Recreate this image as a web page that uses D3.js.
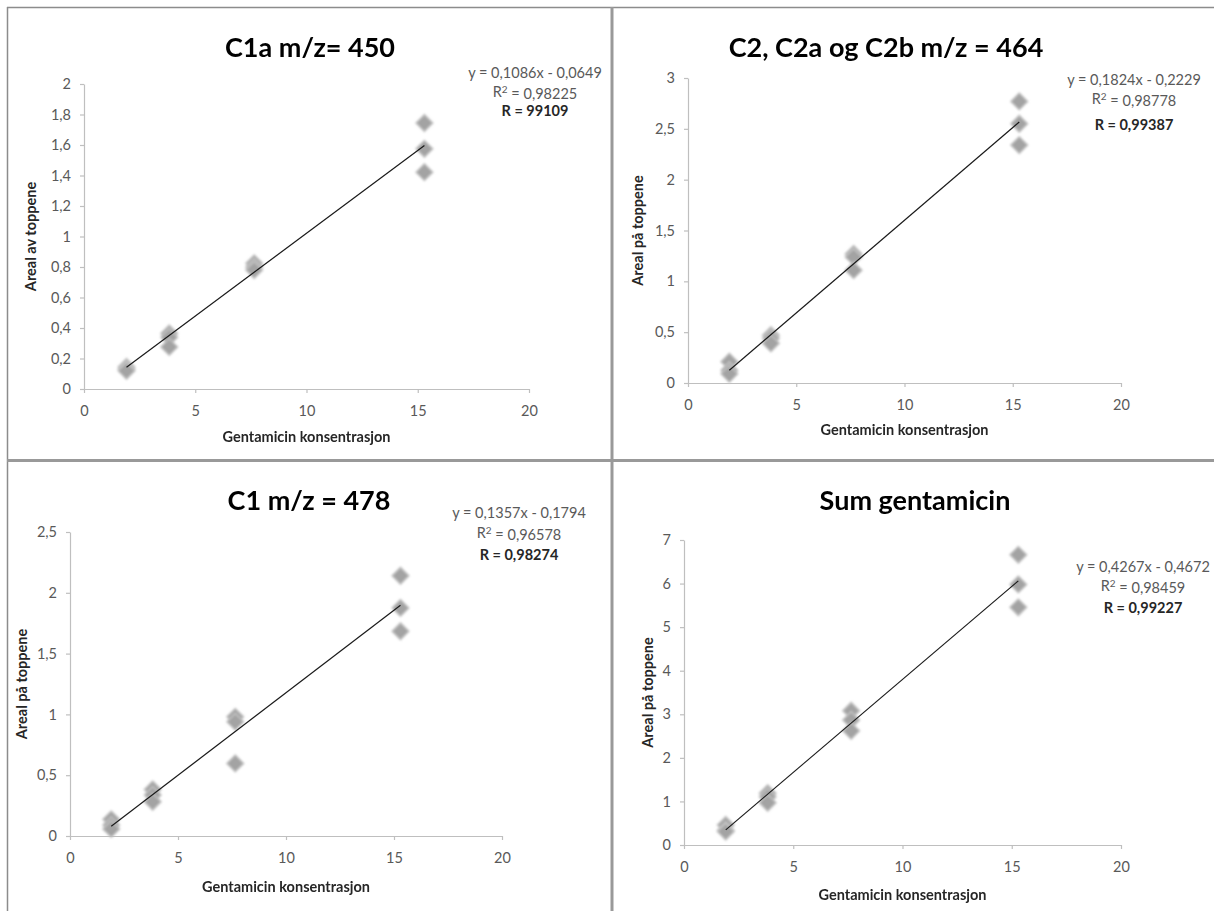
<!DOCTYPE html>
<html>
<head>
<meta charset="utf-8" />
<title>Gentamicin kalibrering</title>
<script src="https://d3js.org/d3.v7.min.js"></script>
<style>
body { margin: 0; background: #fff; }
svg { display: block; font-family: Lato, "Open Sans", sans-serif; }
.tick text { fill: #595959; font-size: 14.5px; }
.axis path, .axis line { stroke: #bfbfbf; stroke-width: 1.2px; }
.title { font-weight: bold; font-size: 27px; fill: #000; }
.axtitle { font-weight: bold; font-size: 14.5px; fill: #262626; }
.eq { font-size: 14.5px; fill: #595959; }
.eqR { font-size: 14.5px; font-weight: bold; fill: #262626; }
</style>
</head>
<body>
<div id="chart"></div>
<script>
// concentrations (3 replicates each)
var conc = [1.91, 1.91, 1.91, 3.83, 3.83, 3.83, 7.65, 7.65, 7.65, 15.3, 15.3, 15.3];

// peak areas
var c1a = [0.145, 0.13, 0.12, 0.364, 0.34, 0.276, 0.824, 0.80, 0.78, 1.744, 1.575, 1.422];
var c2 = [0.21, 0.125, 0.09, 0.47, 0.44, 0.39, 1.27, 1.24, 1.11, 2.77, 2.55, 2.34];
var c1 = [0.137, 0.09, 0.058, 0.383, 0.337, 0.282, 0.98, 0.94, 0.597, 2.14, 1.876, 1.684];
var sumG = [0.46, 0.34, 0.31, 1.19, 1.11, 0.97, 3.08, 2.87, 2.62, 6.66, 5.98, 5.455];

var titles = ["C1a m/z= 450", "C2, C2a og C2b m/z = 464", "C1 m/z = 478", "Sum gentamicin"];
var yLabels = ["Areal av toppene", "Areal på toppene", "Areal på toppene", "Areal på toppene"];
var xLabel = "Gentamicin konsentrasjon";

var slopes = [0.1086, 0.1824, 0.1357, 0.4267];
var intercepts = [-0.0649, -0.2229, -0.1794, -0.4672];
var eqTexts = ["y = 0,1086x - 0,0649", "y = 0,1824x - 0,2229", "y = 0,1357x - 0,1794", "y = 0,4267x - 0,4672"];
var r2Texts = ["0,98225", "0,98778", "0,96578", "0,98459"];
var rTexts = ["R = 99109", "R = 0,99387", "R = 0,98274", "R = 0,99227"];

var xTicks = [0, 5, 10, 15, 20];
var yTicks1 = [0, 0.2, 0.4, 0.6, 0.8, 1, 1.2, 1.4, 1.6, 1.8, 2];
var yTicks2 = [0, 0.5, 1, 1.5, 2, 2.5, 3];
var yTicks3 = [0, 0.5, 1, 1.5, 2, 2.5];
var yTicks4 = [0, 1, 2, 3, 4, 5, 6, 7];

var series = [c1a, c2, c1, sumG];
var yTickSets = [yTicks1, yTicks2, yTicks3, yTicks4];

// panel layout in page pixels
var layout = [
    {l: 84, r: 529, b: 389, t: 84, tx: 310, ty: 47, ex: 535, ey: [73, 92, 111], ylx: 31, xly: 437},
    {l: 688, r: 1121, b: 383, t: 78, tx: 886, ty: 47, ex: 1134, ey: [80, 99, 125], ylx: 638, xly: 430},
    {l: 70, r: 502, b: 836, t: 532, tx: 309, ty: 500, ex: 519, ey: [513, 533, 555], ylx: 22, xly: 887},
    {l: 684, r: 1121, b: 845, t: 540, tx: 915, ty: 500, ex: 1143, ey: [567, 586, 608], ylx: 648, xly: 895}
];

var fmt = d3.formatLocale({decimal: ",", thousands: " ", grouping: [3], currency: ["", ""]}).format(".1~f");

var W = 1214, H = 911;
var svg = d3.select("#chart").append("svg").attr("width", W).attr("height", H);

var defs = svg.append("defs");
defs.append("filter").attr("id", "soft")
    .attr("x", "-50%").attr("y", "-50%").attr("width", "200%").attr("height", "200%")
    .append("feGaussianBlur").attr("stdDeviation", 0.8);

// frame and dividers
svg.append("line").attr("x1", 7.5).attr("x2", 7.5).attr("y1", 7).attr("y2", H)
    .attr("stroke", "#8c8c8c").attr("stroke-width", 1.5);
svg.append("line").attr("x1", 7).attr("x2", W).attr("y1", 7.5).attr("y2", 7.5)
    .attr("stroke", "#8c8c8c").attr("stroke-width", 1.5);
svg.append("line").attr("x1", 612).attr("x2", 612).attr("y1", 7).attr("y2", H)
    .attr("stroke", "#999").attr("stroke-width", 3);
svg.append("line").attr("x1", 7).attr("x2", W).attr("y1", 460.5).attr("y2", 460.5)
    .attr("stroke", "#999").attr("stroke-width", 3);

var diamond = d3.symbol().type(d3.symbolSquare).size(140);

layout.forEach(function(p, i) {
    var yT = yTickSets[i];
    var x = d3.scaleLinear().domain([0, 20]).range([p.l, p.r]);
    var y = d3.scaleLinear().domain([0, yT[yT.length - 1]]).range([p.b, p.t]);
    var g = svg.append("g");

    g.append("g").attr("class", "axis")
        .attr("transform", "translate(0," + p.b + ")")
        .call(d3.axisBottom(x).tickValues(xTicks).tickFormat(fmt).tickSize(4).tickSizeOuter(0).tickPadding(13));

    g.append("g").attr("class", "axis")
        .attr("transform", "translate(" + p.l + ",0)")
        .call(d3.axisLeft(y).tickValues(yT).tickFormat(fmt).tickSize(4).tickSizeOuter(0).tickPadding(9));

    svg.selectAll(".axis").attr("font-family", null).attr("font-size", null);

    // points
    var pts = conc.map(function(c, k) { return [c, series[i][k]]; });
    g.append("g").attr("filter", "url(#soft)")
        .selectAll("path").data(pts).enter().append("path")
        .attr("d", diamond)
        .attr("transform", function(d) { return "translate(" + x(d[0]) + "," + y(d[1]) + ") rotate(45)"; })
        .attr("fill", "#a3a3a3")
        .attr("stroke", "#c2c2c2")
        .attr("stroke-width", 1.5);

    // trend line
    var xMin = d3.min(conc), xMax = d3.max(conc);
    g.append("line")
        .attr("x1", x(xMin)).attr("y1", y(slopes[i] * xMin + intercepts[i]))
        .attr("x2", x(xMax)).attr("y2", y(slopes[i] * xMax + intercepts[i]))
        .attr("stroke", "#1a1a1a").attr("stroke-width", 1.2);

    // titles
    g.append("text").attr("class", "title")
        .attr("x", p.tx).attr("y", p.ty).attr("dy", "0.36em")
        .attr("text-anchor", "middle").text(titles[i]);

    g.append("text").attr("class", "axtitle")
        .attr("x", (p.l + p.r) / 2).attr("y", p.xly).attr("dy", "0.36em")
        .attr("text-anchor", "middle").text(xLabel);

    g.append("text").attr("class", "axtitle")
        .attr("transform", "translate(" + p.ylx + "," + ((p.t + p.b) / 2) + ") rotate(-90)")
        .attr("dy", "0.36em")
        .attr("text-anchor", "middle").text(yLabels[i]);

    // regression text
    g.append("text").attr("class", "eq")
        .attr("x", p.ex).attr("y", p.ey[0]).attr("dy", "0.36em")
        .attr("text-anchor", "middle").text(eqTexts[i]);
    var r2 = g.append("text").attr("class", "eq")
        .attr("x", p.ex).attr("y", p.ey[1]).attr("dy", "0.36em")
        .attr("text-anchor", "middle");
    r2.append("tspan").text("R");
    r2.append("tspan").attr("dy", "-0.45em").attr("font-size", "10px").text("2");
    r2.append("tspan").attr("dy", "0.45em").text(" = " + r2Texts[i]);
    g.append("text").attr("class", "eqR")
        .attr("x", p.ex).attr("y", p.ey[2]).attr("dy", "0.36em")
        .attr("text-anchor", "middle").text(rTexts[i]);
});
</script>
</body>
</html>
